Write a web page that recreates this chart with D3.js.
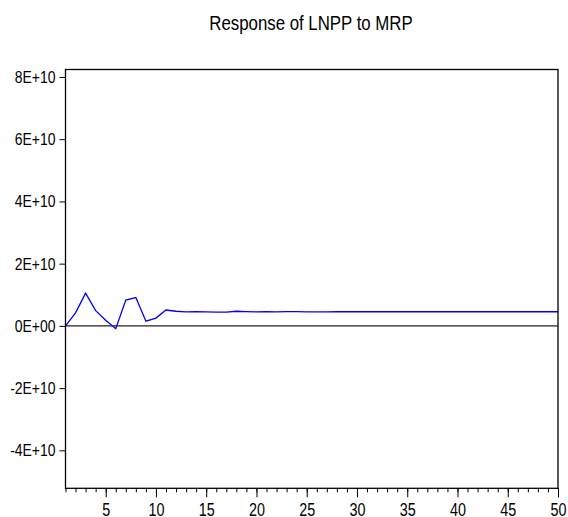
<!DOCTYPE html>
<html><head><meta charset="utf-8">
<script src="https://cdn.jsdelivr.net/npm/d3@7"></script>
<style>
body{margin:0;background:#fff;}
svg text{font-family:"Liberation Sans",Arial,sans-serif;fill:#000;}
</style></head>
<body><svg id="c" width="568" height="517"></svg>
<script>
const title = "Response of LNPP to MRP";
const periods = d3.range(1, 51);
const response = [0.00, 0.42, 1.05, 0.49, 0.18, -0.09, 0.83, 0.91, 0.15, 0.25,
  0.51, 0.47, 0.45, 0.46, 0.45, 0.44, 0.44, 0.47, 0.46, 0.45,
  0.46, 0.45, 0.46, 0.46, 0.45, 0.45, 0.45, 0.46, 0.455, 0.455,
  0.455, 0.455, 0.455, 0.455, 0.455, 0.455, 0.455, 0.455, 0.455, 0.455,
  0.455, 0.455, 0.455, 0.455, 0.455, 0.455, 0.455, 0.455, 0.455, 0.455].map(v => v * 1e10);
const yTicks = [-4e10, -2e10, 0, 2e10, 4e10, 6e10, 8e10];
const yTickLabels = ["-4E+10", "-2E+10", "0E+00", "2E+10", "4E+10", "6E+10", "8E+10"];
const xMajor = [5, 10, 15, 20, 25, 30, 35, 40, 45, 50];

const svg = d3.select("#c");
const L = 65.5, R = 558, T = 69.5, B = 488.3;
const x = d3.scaleLinear().domain([1, 50]).range([L, R]);
const y = d3.scaleLinear().domain([-5.22e10, 8.24e10]).range([B, T]);

function narrow(sel) {
  sel.each(function() {
    const w = this.getComputedTextLength();
    d3.select(this).attr("textLength", w * 0.82).attr("lengthAdjust", "spacingAndGlyphs");
  });
}

// title
svg.append("text").attr("x", 311).attr("y", 30).attr("text-anchor", "middle")
  .style("font-size", "20.5px").text(title).call(narrow);

// zero line
svg.append("line").attr("x1", L).attr("x2", R).attr("y1", y(0)).attr("y2", y(0))
  .attr("stroke", "#222").attr("stroke-width", 1.2);

// series
svg.append("path").datum(periods.map((p, i) => [p, response[i]]))
  .attr("fill", "none").attr("stroke", "#0000ff").attr("stroke-width", 1.3)
  .attr("d", d3.line().x(d => x(d[0])).y(d => y(d[1])));

// frame
svg.append("rect").attr("x", L).attr("y", T).attr("width", R - L).attr("height", B - T)
  .attr("fill", "none").attr("stroke", "#000").attr("stroke-width", 1.3);

// y axis
const yAxis = d3.axisLeft(y).tickValues(yTicks).tickSize(6).tickPadding(4)
  .tickFormat((d, i) => yTickLabels[i]);
const gy = svg.append("g").attr("transform", `translate(${L},0)`).call(yAxis);
gy.select(".domain").remove();
gy.selectAll("text").style("font-size", "17px").attr("dy", "0.32em")
  .style("font-family", "'Liberation Sans',Arial,sans-serif").call(narrow);

// x minor ticks
const xMinor = d3.axisBottom(x).tickValues(periods).tickSize(4).tickFormat("");
const gxm = svg.append("g").attr("transform", `translate(0,${B})`).call(xMinor);
gxm.select(".domain").remove();
// x major ticks
const xAxis = d3.axisBottom(x).tickValues(xMajor).tickSize(9).tickPadding(6).tickFormat(d3.format("d"));
const gx = svg.append("g").attr("transform", `translate(0,${B})`).call(xAxis);
gx.select(".domain").remove();
gx.selectAll("text").style("font-size", "17.5px").attr("dy", "0.71em")
  .style("font-family", "'Liberation Sans',Arial,sans-serif").call(narrow);
svg.selectAll(".tick line").attr("stroke", "#000").attr("stroke-width", 1);
</script></body></html>
